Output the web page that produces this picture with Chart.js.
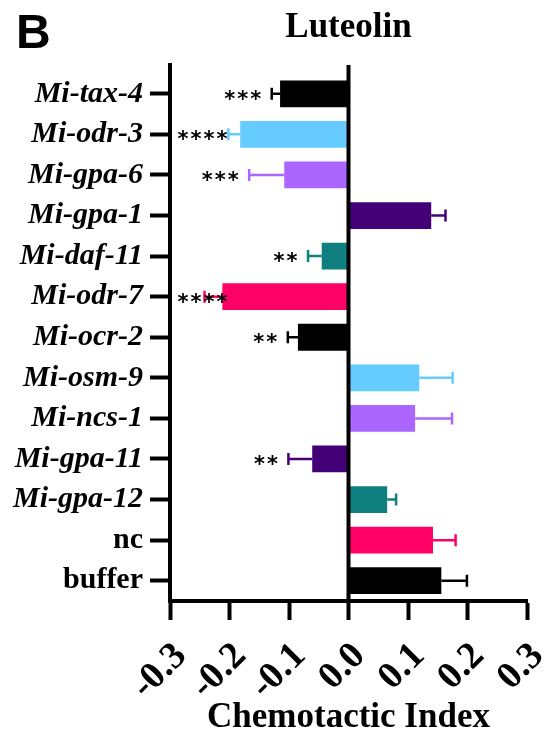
<!DOCTYPE html>
<html>
<head>
<meta charset="utf-8">
<script src="https://cdn.jsdelivr.net/npm/chart.js@4.4.1/dist/chart.umd.min.js"></script>
<style>
  html, body { margin: 0; padding: 0; background: #fff; }
  #wrap { width: 550px; height: 740px; }
</style>
</head>
<body>
<div id="wrap"><canvas id="myChart"></canvas></div>
<script>
// data (Luteolin, chemotactic index)
const genes = ['Mi-tax-4', 'Mi-odr-3', 'Mi-gpa-6', 'Mi-gpa-1', 'Mi-daf-11', 'Mi-odr-7', 'Mi-ocr-2',
  'Mi-osm-9', 'Mi-ncs-1', 'Mi-gpa-11', 'Mi-gpa-12', 'nc', 'buffer']
const means = [-0.115, -0.182, -0.108, 0.139, -0.045, -0.212, -0.085,
  0.119, 0.112, -0.061, 0.065, 0.142, 0.156]
const errors = [0.014, 0.020, 0.059, 0.024, 0.023, 0.030, 0.017,
  0.056, 0.062, 0.040, 0.015, 0.038, 0.043]
const stars = ['***', '****', '***', '', '**', '****', '**', '', '', '**', '', '', '']
const colours = ['#000000', '#66ccff', '#aa66ff', '#440077', '#107f7f', '#ff0066', '#000000',
  '#66ccff', '#aa66ff', '#440077', '#107f7f', '#ff0066', '#000000']
const xMin = -0.3
const xMax = 0.3
const xStep = 0.1

const serif = '"Liberation Serif", "Times New Roman", serif'

/**
 * Error bars, asterisks, zero line, title and panel letter.
 */
const extras = {
  id: 'extras',
  afterDatasetsDraw(chart) {
    const { ctx, chartArea, scales: { x, y } } = chart
    ctx.save()
    ctx.strokeStyle = '#000'
    ctx.lineWidth = 4
    const x0 = x.getPixelForValue(0)
    ctx.beginPath()
    ctx.moveTo(x0, 65)
    ctx.lineTo(x0, chartArea.bottom)
    ctx.stroke()
    ctx.beginPath()
    ctx.moveTo(chartArea.left, 63)
    ctx.lineTo(chartArea.left, chartArea.bottom + 2)
    ctx.stroke()

    means.forEach((m, i) => {
      const yc = y.getPixelForValue(i)
      const end = m < 0 ? m - errors[i] : m + errors[i]
      const xs = x.getPixelForValue(m)
      const xe = x.getPixelForValue(end)
      ctx.strokeStyle = colours[i]
      ctx.lineWidth = 2.5
      ctx.beginPath()
      ctx.moveTo(xs, yc)
      ctx.lineTo(xe, yc)
      ctx.moveTo(xe, yc - 6)
      ctx.lineTo(xe, yc + 6)
      ctx.stroke()

      if (stars[i]) {
        const n = stars[i].length
        const pitch = 13
        const w = (n - 1) * pitch + 10
        let right = xe - 11
        if (right - w < chartArea.left + 8) right = chartArea.left + 8 + w
        ctx.fillStyle = '#000'
        ctx.font = 'bold 21px "DejaVu Sans", sans-serif'
        ctx.textAlign = 'center'
        ctx.textBaseline = 'alphabetic'
        for (let k = 0; k < n; k++) {
          ctx.fillText('*', right - 5 - k * pitch, yc + 12)
        }
      }
    })
    ctx.restore()
  },
  afterDraw(chart) {
    const { ctx, chartArea } = chart
    ctx.save()
    ctx.fillStyle = '#000'
    ctx.textAlign = 'center'
    ctx.textBaseline = 'alphabetic'
    ctx.font = 'bold 35px ' + serif
    ctx.fillText('Luteolin', (chartArea.left + chartArea.right) / 2, 37)
    ctx.textAlign = 'left'
    ctx.font = 'bold 48px "Liberation Sans", Arial, sans-serif'
    ctx.fillText('B', 16, 48)
    ctx.restore()
  },
}

new Chart(document.querySelector('#myChart'), {
  type: 'bar',
  data: {
    labels: genes,
    datasets: [{
      data: means,
      backgroundColor: colours,
      borderWidth: 0,
      categoryPercentage: 1,
      barPercentage: 0.66,
    }],
  },
  options: {
    indexAxis: 'y',
    responsive: true,
    maintainAspectRatio: false,
    animation: false,
    layout: { padding: { top: 73.5, right: 23, bottom: 0, left: 0 } },
    plugins: {
      legend: { display: false },
      tooltip: { enabled: false },
    },
    scales: {
      x: {
        min: xMin,
        max: xMax,
        afterFit: (s) => {
          s.height = 139
          s.paddingLeft = 0
          s.paddingRight = 0
        },
        ticks: {
          stepSize: xStep,
          minRotation: 45,
          maxRotation: 45,
          autoSkip: false,
          color: '#000',
          padding: 14,
          labelOffset: 11,
          font: { family: serif, size: 38, weight: 'bold' },
          callback: (v) => (Math.round(v * 10) / 10).toFixed(1),
        },
        grid: { drawOnChartArea: false, tickLength: 19, tickWidth: 4, tickColor: '#000' },
        border: { display: true, color: '#000', width: 4 },
        title: {
          display: true,
          text: 'Chemotactic Index',
          color: '#000',
          font: { family: serif, size: 35, weight: 'bold' },
          padding: { top: 0, bottom: 1 },
        },
      },
      y: {
        afterFit: (s) => { s.width = 170 },
        ticks: {
          color: '#000',
          padding: 7,
          font: (c) => ({
            family: serif,
            size: 30,
            weight: 'bold',
            style: genes[c.index] && genes[c.index].startsWith('Mi-') ? 'italic' : 'normal',
          }),
        },
        grid: { drawOnChartArea: false, offset: false, tickLength: 20, tickWidth: 4, tickColor: '#000' },
        border: { display: false },
      },
    },
  },
  plugins: [extras],
})
</script>
</body>
</html>
